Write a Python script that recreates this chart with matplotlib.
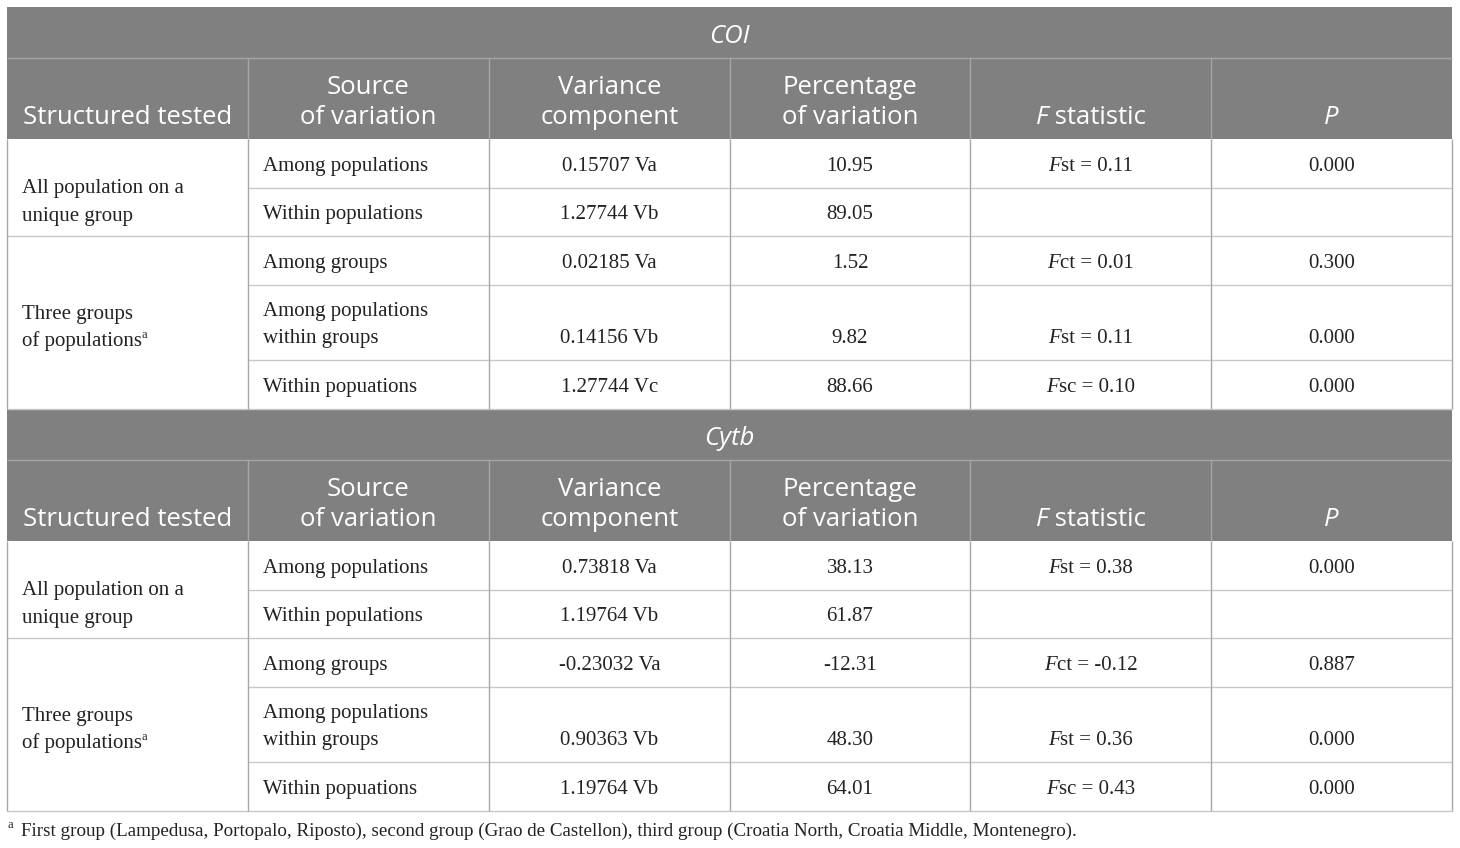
import matplotlib
matplotlib.use("Agg")
import matplotlib.pyplot as plt
from matplotlib.patches import Rectangle

# --- table content ---
sections = ["COI", "Cytb"]
header_cols = [["Structured tested"], ["Source", "of variation"], ["Variance", "component"],
               ["Percentage", "of variation"], ["F statistic"], ["P"]]
structures = [["All population on a", "unique group"], ["Three groups", "of populations"]]
sources = [["Among populations"], ["Within populations"], ["Among groups"],
           ["Among populations", "within groups"], ["Within popuations"]]

coi_var = ["0.15707 Va", "1.27744 Vb", "0.02185 Va", "0.14156 Vb", "1.27744 Vc"]
coi_pct = ["10.95", "89.05", "1.52", "9.82", "88.66"]
coi_fname = ["F", None, "F", "F", "F"]
coi_fsub = ["st", None, "ct", "st", "sc"]
coi_fval = ["0.11", None, "0.01", "0.11", "0.10"]
coi_p = ["0.000", "", "0.300", "0.000", "0.000"]

cytb_var = ["0.73818 Va", "1.19764 Vb", "-0.23032 Va", "0.90363 Vb", "1.19764 Vb"]
cytb_pct = ["38.13", "61.87", "-12.31", "48.30", "64.01"]
cytb_fname = ["F", None, "F", "F", "F"]
cytb_fsub = ["st", None, "ct", "st", "sc"]
cytb_fval = ["0.38", None, "-0.12", "0.36", "0.43"]
cytb_p = ["0.000", "", "0.887", "0.000", "0.000"]

footnote = ("First group (Lampedusa, Portopalo, Riposto), second group (Grao de Castellon), "
            "third group (Croatia North, Croatia Middle, Montenegro).")

# --- layout (pixels) ---
W, H = 1460, 848
col_x = [7, 248, 489, 730, 970, 1211, 1452]
HEAD = "#808080"
SANS = "Open Sans"
SERIF = "Liberation Serif"
TXT = "#222222"
HS = 18.5   # header font size
BS = 15     # body font size

fig = plt.figure(figsize=(W / 100, H / 100), dpi=100)
ax = fig.add_axes([0, 0, 1, 1])
ax.set_xlim(0, W)
ax.set_ylim(H, 0)
ax.axis("off")
renderer = fig.canvas.get_renderer()


def rich(x, y, parts, size, family, color, ha="center", va="baseline"):
    """draw text pieces (text, style) side by side"""
    objs, widths = [], []
    for txt, style in parts:
        t = ax.text(0, y, txt, fontsize=size, family=family, style=style,
                    color=color, va=va, ha="left")
        w = t.get_window_extent(renderer).width
        objs.append(t)
        widths.append(w)
    total = sum(widths)
    start = x - total / 2 if ha == "center" else x
    for t, w in zip(objs, widths):
        t.set_x(start)
        start += w


def hline(y, x0, x1, c="#c8c8c8", lw=1.0):
    ax.plot([x0, x1], [y, y], color=c, lw=lw, solid_capstyle="butt")


def vline(x, y0, y1, c="#a8a8a8", lw=1.0):
    ax.plot([x, x], [y0, y1], color=c, lw=lw, solid_capstyle="butt")


tables = [
    (coi_var, coi_pct, coi_fname, coi_fsub, coi_fval, coi_p),
    (cytb_var, cytb_pct, cytb_fname, cytb_fsub, cytb_fval, cytb_p),
]

for s, name in enumerate(sections):
    top = 7 + s * 402
    # header band
    ax.add_patch(Rectangle((col_x[0], top), col_x[-1] - col_x[0], 132, color=HEAD, lw=0))
    hline(top + 51, col_x[0], col_x[-1], c="#a6a6a6")
    for cx in col_x[1:-1]:
        vline(cx, top + 51, top + 132, c="#a6a6a6")
    ax.text((col_x[0] + col_x[-1]) / 2, top + 36, name, fontsize=HS, family=SANS,
            style="italic", color="white", ha="center", va="baseline")
    for i, lines in enumerate(header_cols):
        cxm = (col_x[i] + col_x[i + 1]) / 2
        if len(lines) == 2:
            rich(cxm, top + 87.5, [(lines[0], "normal")], HS, SANS, "white")
            rich(cxm, top + 116.5, [(lines[1], "normal")], HS, SANS, "white")
        elif lines[0].startswith("F "):
            rich(cxm, top + 116.5, [("F", "italic"), (lines[0][1:], "normal")], HS, SANS, "white")
        elif lines[0] == "P":
            rich(cxm, top + 116.5, [("P", "italic")], HS, SANS, "white")
        else:
            rich(cxm, top + 116.5, [(lines[0], "normal")], HS, SANS, "white")

    # body
    b = top + 132
    row_tops = [b, b + 49, b + 97, b + 146, b + 221, b + 270]
    var, pct, fname, fsub, fval, pv = tables[s]
    # grid
    for k in range(1, 5):
        x0 = col_x[0] if k == 2 else col_x[1]
        hline(row_tops[k], x0, col_x[-1])
    hline(row_tops[-1], col_x[0], col_x[-1])
    for cx in col_x:
        vline(cx, b, row_tops[-1])

    # structure column
    rich(col_x[0] + 15, b + 54, [(structures[0][0], "normal")], BS, SERIF, TXT, ha="left")
    rich(col_x[0] + 15, b + 82, [(structures[0][1], "normal")], BS, SERIF, TXT, ha="left")
    rich(col_x[0] + 15, b + 180, [(structures[1][0], "normal")], BS, SERIF, TXT, ha="left")
    t = ax.text(col_x[0] + 15, b + 207, structures[1][1], fontsize=BS, family=SERIF,
                color=TXT, va="baseline")
    wsup = t.get_window_extent(renderer).width
    ax.text(col_x[0] + 15 + wsup - 1, b + 199, "a", fontsize=9, family=SERIF,
            color=TXT, va="baseline")

    for r in range(5):
        base = row_tops[r + 1] - 17
        src = sources[r]
        if len(src) == 2:
            ax.text(col_x[1] + 15, base - 27, src[0], fontsize=BS, family=SERIF,
                    color=TXT, va="baseline")
        ax.text(col_x[1] + 15, base, src[-1], fontsize=BS, family=SERIF,
                color=TXT, va="baseline")
        ax.text((col_x[2] + col_x[3]) / 2, base, var[r], fontsize=BS, family=SERIF,
                color=TXT, ha="center", va="baseline")
        ax.text((col_x[3] + col_x[4]) / 2, base, pct[r], fontsize=BS, family=SERIF,
                color=TXT, ha="center", va="baseline")
        if fname[r]:
            rich((col_x[4] + col_x[5]) / 2, base,
                 [(fname[r], "italic"), (fsub[r] + " = " + fval[r], "normal")],
                 BS, SERIF, TXT)
        ax.text((col_x[5] + col_x[6]) / 2, base, pv[r], fontsize=BS, family=SERIF,
                color=TXT, ha="center", va="baseline")

# footnote
ax.text(8, 828, "a", fontsize=9, family=SERIF, color=TXT, va="baseline")
ax.text(21, 836, footnote, fontsize=13.7, family=SERIF, color=TXT, va="baseline")

fig.savefig("out.png", dpi=100, facecolor="white")
